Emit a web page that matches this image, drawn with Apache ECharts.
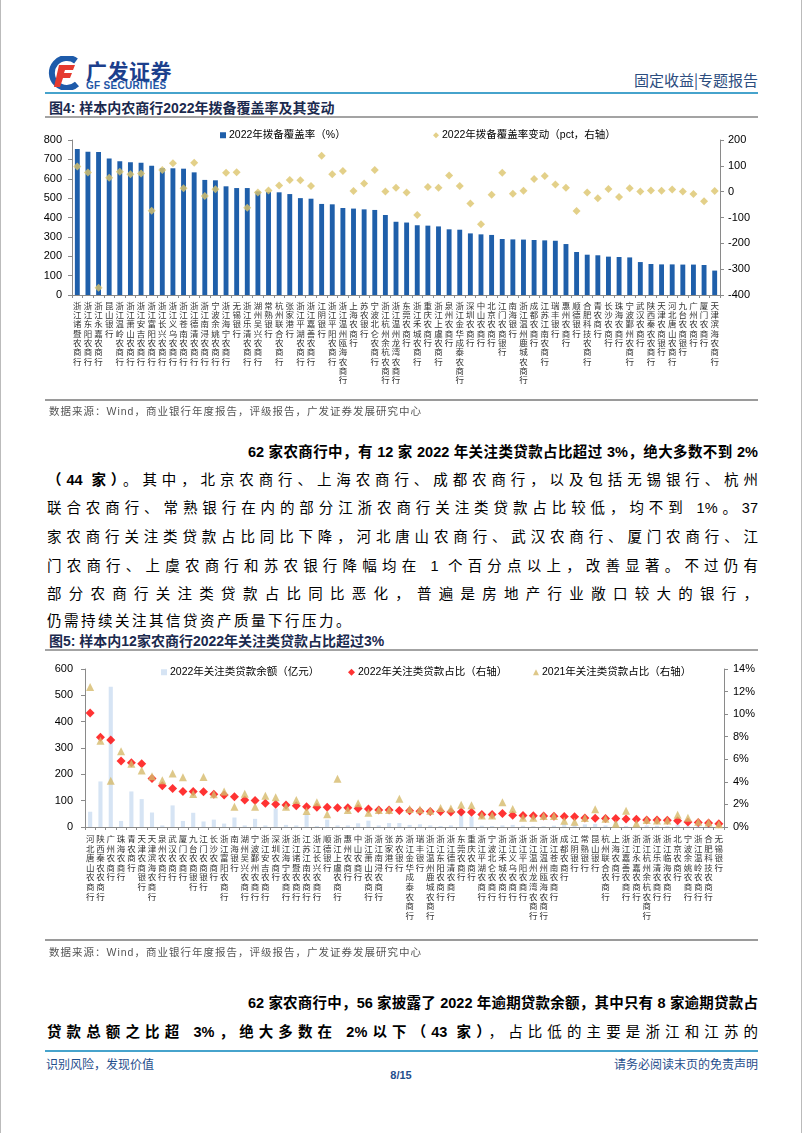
<!DOCTYPE html>
<html>
<head>
<meta charset="utf-8">
<script src="https://cdn.jsdelivr.net/npm/echarts@6/dist/echarts.min.js"></script>
<style>
  html,body{margin:0;padding:0;background:#fff;}
  body{width:802px;height:1133px;position:relative;overflow:hidden;font-family:"Liberation Sans","Noto Sans CJK SC",sans-serif;}
  .abs{position:absolute;}
  .hline{position:absolute;left:45px;width:713px;}
  .para{position:absolute;font-size:14.5px;line-height:20px;height:20px;color:#000;text-align:justify;text-align-last:justify;font-family:"Liberation Sans","Noto Sans CJK SC",sans-serif;overflow:visible;}
  .b{font-weight:bold;}
  .src{position:absolute;left:49px;font-size:10.5px;color:#555;letter-spacing:1px;}
  .ftitle{position:absolute;left:49px;font-size:14px;font-weight:bold;color:#1b2a4e;}
</style>
</head>
<body>
<div class="abs" style="left:0;top:0;width:1px;height:1133px;background:#bbb"></div>
<div class="abs" style="left:801px;top:0;width:1px;height:1133px;background:#bbb"></div>

<!-- header -->
<svg class="abs" style="left:47px;top:56px" width="36" height="34" viewBox="0 0 36 34">
  <path d="M29 5 A15 15 0 1 0 30 28" stroke="#1E5BAA" stroke-width="6" fill="none"/>
  <path d="M12 9 L28 9 L26 14 L18 14 L17 17 L25 17 L23 22 L16 22 L13 31 L7 31 Z" fill="#E53A2F"/>
</svg>
<div class="abs" style="left:86px;top:55px;font-size:21px;font-weight:bold;color:#1C3F8C;letter-spacing:0.5px;font-family:'Noto Sans CJK SC'">广发证券</div>
<div class="abs" style="left:86px;top:80px;font-size:10px;font-weight:bold;color:#1E55A5;letter-spacing:0.3px">GF SECURITIES</div>
<div class="abs" style="right:44px;top:69px;font-size:15px;color:#2B4C7E;font-family:'Noto Sans CJK SC'">固定收益|专题报告</div>
<div class="hline" style="top:92px;height:2px;background:#46A3CC"></div>
<div class="ftitle" style="top:97px">图4: 样本内农商行2022年拨备覆盖率及其变动</div>
<div class="hline" style="top:116px;height:2px;background:#a3a3a3"></div>

<div id="c1" class="abs" style="left:0;top:120px;width:802px;height:280px"></div>
<div class="hline" style="top:399px;height:2px;background:#9a9a9a"></div>
<div class="src" style="top:403px">数据来源：Wind，商业银行年度报告，评级报告，广发证券发展研究中心</div>

<!-- paragraph 1 -->
<div class="para b" style="left:248px;width:510px;top:442px">62 家农商行中，有 12 家 2022 年关注类贷款占比超过 3%，绝大多数不到 2%</div>
<div class="para" style="left:47px;width:711px;top:470px"><span class="b">（44 家）</span>。其中，北京农商行、上海农商行、成都农商行，以及包括无锡银行、杭州</div>
<div class="para" style="left:47px;width:711px;top:498px">联合农商行、常熟银行在内的部分江浙农商行关注类贷款占比较低，均不到 1%。37</div>
<div class="para" style="left:47px;width:711px;top:527px">家农商行关注类贷款占比同比下降，河北唐山农商行、武汉农商行、厦门农商行、江</div>
<div class="para" style="left:47px;width:711px;top:556px">门农商行、上虞农商行和苏农银行降幅均在 1 个百分点以上，改善显著。不过仍有</div>
<div class="para" style="left:47px;width:711px;top:584px">部分农商行关注类贷款占比同比恶化，普遍是房地产行业敞口较大的银行，</div>
<div class="para" style="left:47px;top:611px;text-align:left;text-align-last:left;letter-spacing:2.5px">仍需持续关注其信贷资产质量下行压力。</div>

<div class="ftitle" style="top:630px">图5: 样本内12家农商行2022年关注类贷款占比超过3%</div>
<div class="hline" style="top:649px;height:2px;background:#a3a3a3"></div>

<div id="c2" class="abs" style="left:0;top:652px;width:802px;height:288px"></div>
<div class="hline" style="top:939px;height:2px;background:#9a9a9a"></div>
<div class="src" style="top:944px">数据来源：Wind，商业银行年度报告，评级报告，广发证券发展研究中心</div>

<!-- paragraph 2 -->
<div class="para b" style="left:248px;width:510px;top:993px">62 家农商行中，56 家披露了 2022 年逾期贷款余额，其中只有 8 家逾期贷款占</div>
<div class="para" style="left:47px;width:711px;top:1022px"><span class="b">贷款总额之比超 3%，绝大多数在 2%以下（43 家）</span>，占比低的主要是浙江和江苏的</div>

<!-- footer -->
<div class="hline" style="top:1050px;height:2px;background:#46A3CC"></div>
<div class="abs" style="left:46px;top:1055px;font-size:12px;color:#1F4E8C;font-family:'Noto Sans CJK SC'">识别风险，发现价值</div>
<div class="abs" style="right:44px;top:1055px;font-size:12px;color:#1F4E8C;font-family:'Noto Sans CJK SC'">请务必阅读末页的免责声明</div>
<div class="abs" style="left:0;width:802px;text-align:center;top:1069px;font-size:11px;font-weight:bold;color:#1F4E8C">8/15</div>

<script>
// ---------- Figure 4 data ----------
const cats1 = ['浙江诸暨农商行','浙江东阳农商行','浙江永嘉农商行','昆山银行','浙江温岭农商行','浙江萧山农商行','浙江安吉农商行','浙江富阳农商行','浙江长兴农商行','浙江义乌农商行','浙江苍南农商行','浙江德清农商行','浙江南浔农商行','宁波余姚农商行','浙江海宁农商行','无锡银行','浙江乐清农商行','湖州吴兴农商行','常熟银行','杭州联合农商行','张家港行','浙江平湖农商行','浙江嘉善农商行','江阴银行','浙江平阳农商行','浙江温州瓯海农商行','上海农商行','苏农银行','宁波北仑农商行','浙江杭州余杭农商行','浙江温州龙湾农商行','东莞农商行','浙江禾城农商行','重庆农商行','浙江上虞农商行','泉州农商行','浙江金华成泰农商行','深圳农商行','中山农商行','北京农商行','江门农商银行','南海银行','浙江温州鹿城农商行','成都农商行','江苏江南农商行','瑞丰银行','惠州农商行','顺德银行','合肥科技农商行','青农商行','长沙农商行','珠海农商行','宁波鄞州农商行','武汉农商行','陕西秦农农商行','天津农商银行','河北唐山农商行','九台农商银行','广州农商行','厦门农商行','天津滨海农商行'];
const coverage2022 = [753,740,738,704,690,685,683,667,655,654,652,633,594,592,561,552,552,535,532,530,521,500,497,470,468,449,446,442,439,413,378,374,360,358,354,339,337,318,313,310,289,287,286,284,282,280,263,222,208,205,198,196,194,170,160,158,158,157,157,155,126];
const coverageChg = [97,74,-372,54,77,67,70,-74,84,110,13,112,-17,9,73,75,-62,-3,5,24,45,44,22,139,67,80,3,32,84,1,15,-3,-90,18,15,63,22,-46,-126,-12,73,-8,4,49,61,28,15,-75,-3,-25,10,-21,13,1,5,4,8,1,-9,-37,3];
const leftTicks1 = {min:0,max:800,interval:100};
const rightTicks1 = {min:-400,max:200,interval:100};

// ---------- Figure 5 data ----------
const cats2 = ['河北唐山农商行','陕西秦农农商行','广州农商行','珠海农商行','青农商行','天津农商银行','天津滨海农商行','泉州农商行','武汉农商行','厦门农商行','九台农商银行','江门农商银行','长沙农商行','浙江富阳农商行','南海银行','湖州吴兴农商行','宁波鄞州农商行','浙江安吉农商行','深圳农商行','浙江海宁农商行','浙江诸暨农商行','江苏江南农商行','浙江长兴农商行','顺德银行','浙江上虞农商行','惠州农商行','中山农商行','浙江萧山农商行','浙江南浔农商行','张家港行','苏农银行','浙江金华成泰农商行','瑞丰银行','浙江温州鹿城农商行','浙江东阳农商行','浙江德清农商行','东莞农商行','重庆农商行','浙江平湖农商行','宁波北仑农商行','浙江禾城农商行','浙江义乌农商行','浙江平阳农商行','浙江温州龙湾农商行','浙江温州瓯海农商行','浙江苍南农商行','成都农商行','江阴银行','常熟银行','昆山银行','杭州联合农商行','上海农商行','浙江嘉善农商行','浙江永嘉农商行','浙江杭州余杭农商行','浙江乐清农商行','浙江临海农商行','北京农商行','宁波余姚农商行','浙江温岭农商行','合肥科技农商行','无锡银行'];
const smlBalance2022 = [58,173,533,23,135,106,55,6,82,23,54,21,28,13,36,6,31,6,70,8,6,49,4,28,6,6,14,24,6,15,15,8,10,6,4,6,62,40,5,4,6,8,5,3,3,5,12,8,10,12,6,18,4,5,6,5,3,9,3,4,4,3];
const smlRatio2022 = [10.1,7.95,7.7,5.84,5.69,5.6,4.3,3.65,3.41,3.14,3.14,3.12,2.9,2.84,2.69,2.4,2.34,2.1,2.01,1.95,1.89,1.8,1.74,1.74,1.71,1.71,1.65,1.59,1.5,1.5,1.46,1.45,1.4,1.38,1.38,1.33,1.32,1.3,1.1,1.1,1.2,1.04,1.02,1.0,0.98,0.95,0.93,0.9,0.8,0.78,0.76,0.75,0.71,0.68,0.63,0.62,0.59,0.55,0.45,0.4,0.36,0.28];
const smlRatio2021 = [12.4,7.65,4.1,6.72,5.6,5.0,4.49,4.15,4.73,4.4,2.93,4.42,2.9,3.14,1.8,2.95,1.8,2.78,2.63,1.8,2.4,1.42,2.2,1.14,4.28,1.5,2.1,1.26,1.5,1.5,2.51,1.6,1.54,1.45,1.69,1.63,1.98,1.92,1.02,1.02,2.2,1.6,0.83,0.83,0.98,0.98,0.55,0.46,0.8,1.57,0.74,0.28,1.45,0.31,0.62,0.58,0.58,1.08,0.83,0.46,0.4,0.25];
const leftTicks2 = {min:0,max:600,interval:100};
const rightTicks2 = {min:0,max:14,interval:2};

const FONT = '"Liberation Sans","Noto Sans CJK SC",sans-serif';
const CJK = '"Noto Sans CJK SC",sans-serif';
const axisGray = '#8a8a8a';
const vert = v => v.split('').join('\n');

function yAxisCfg(t, pos, margin, fmt){
  return {type:'value', position:pos, min:t.min, max:t.max, interval:t.interval,
    axisLine:{show:true, lineStyle:{color:axisGray}},
    axisTick:{show:true, length:4, lineStyle:{color:axisGray}},
    splitLine:{show:false},
    axisLabel:{fontSize:11, color:'#000', fontFamily:FONT, margin:margin, formatter:fmt||'{value}'}};
}
function legendCfg(name, left, top, icon, w, h){
  return {data:[name], left:left, top:top, icon:icon, itemWidth:w, itemHeight:h, itemGap:0,
    textStyle:{fontSize:10.5, color:'#000', fontFamily:FONT, padding:[0,0,0,-2]}, selectedMode:false};
}

const c1 = echarts.init(document.getElementById('c1'));
const n1 = '2022年拨备覆盖率（%）', n2 = '2022年拨备覆盖率变动（pct，右轴）';
c1.setOption({
  animation:false,
  legend:[legendCfg(n1,215,5,'rect',6,6), legendCfg(n2,428,5,'diamond',6,6)],
  grid:{left:72, right:82, top:20, bottom:105},
  xAxis:{type:'category', data:cats1,
    axisLine:{lineStyle:{color:axisGray}},
    axisTick:{show:true, length:3, lineStyle:{color:axisGray}},
    axisLabel:{interval:0, formatter:vert, fontSize:8.5, lineHeight:9.3, margin:6, color:'#333', fontFamily:CJK}},
  yAxis:[yAxisCfg(leftTicks1,'left',10), yAxisCfg(rightTicks1,'right',8)],
  series:[
    {type:'bar', name:n1, data:coverage2022, barWidth:'46%', itemStyle:{color:'#1F5FAA'}},
    {type:'scatter', name:n2, yAxisIndex:1, data:coverageChg, symbol:'diamond', symbolSize:8, itemStyle:{color:'#DCC46C'}}
  ]
});

const c2 = echarts.init(document.getElementById('c2'));
const m1 = '2022年关注类贷款余额（亿元）', m2 = '2022年关注类贷款占比（右轴）', m3 = '2021年关注类贷款占比（右轴）';
c2.setOption({
  animation:false,
  legend:[legendCfg(m1,156,10,'rect',6,6), legendCfg(m2,343,10,'diamond',7,7), legendCfg(m3,528,10,'triangle',6,6)],
  grid:{left:85, right:78, top:17, bottom:113},
  xAxis:{type:'category', data:cats2,
    axisLine:{lineStyle:{color:axisGray}},
    axisTick:{show:true, length:3, lineStyle:{color:axisGray}},
    axisLabel:{interval:0, formatter:vert, fontSize:8.5, lineHeight:9.6, margin:7, color:'#333', fontFamily:CJK}},
  yAxis:[yAxisCfg(leftTicks2,'left',12), yAxisCfg(rightTicks2,'right',9,'{value}%')],
  series:[
    {type:'bar', name:m1, data:smlBalance2022, barWidth:'40%', itemStyle:{color:'#D6E4F4'}},
    {type:'scatter', name:m2, yAxisIndex:1, data:smlRatio2022, symbol:'diamond', symbolSize:9, itemStyle:{color:'#FF0000'}},
    {type:'scatter', name:m3, yAxisIndex:1, data:smlRatio2021, symbol:'triangle', symbolSize:8, itemStyle:{color:'#D6BA6C'}}
  ]
});
</script>
</body>
</html>
